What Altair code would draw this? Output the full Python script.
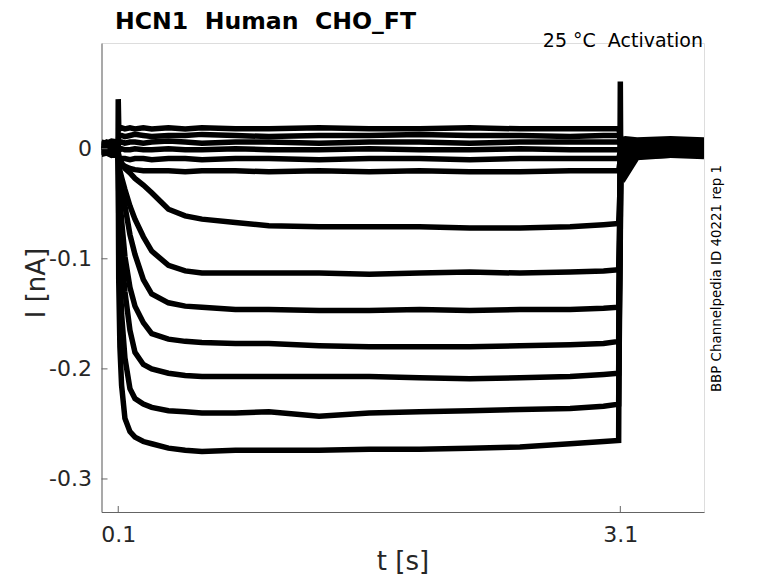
import altair as alt
import pandas as pd

# time points (s)
T = [0.0, 0.03, 0.06, 0.099, 0.1, 0.103, 0.11, 0.12, 0.14, 0.17, 0.2, 0.25, 0.3, 0.4, 0.5,
     0.6, 0.8, 1.0, 1.3, 1.6, 1.9, 2.2, 2.5, 2.8, 3.0, 3.09, 3.1, 3.103, 3.13, 3.2, 3.4, 3.6]

# currents (nA), one list per sweep
N1 = [0.004, 0.006, 0.003, 0.004, 0.045, 0.020, 0.018, 0.019, 0.018, 0.019, 0.018, 0.019, 0.018, 0.019, 0.018,
      0.019, 0.018, 0.018, 0.019, 0.018, 0.018, 0.019, 0.018, 0.018, 0.018, 0.018, 0.012, 0.008, 0.009, 0.008, 0.009, 0.008]
N2 = [0.002, 0.001, 0.003, 0.002, 0.006, 0.011, 0.012, 0.012, 0.011, 0.012, 0.013, 0.012, 0.011, 0.012, 0.012,
      0.013, 0.012, 0.011, 0.012, 0.012, 0.013, 0.012, 0.012, 0.011, 0.012, 0.012, 0.008, 0.006, 0.006, 0.005, 0.006, 0.006]
N3 = [0.000, 0.001, -0.001, 0.000, 0.003, 0.005, 0.006, 0.006, 0.005, 0.006, 0.006, 0.005, 0.006, 0.007, 0.006,
      0.005, 0.006, 0.006, 0.005, 0.006, 0.006, 0.005, 0.006, 0.006, 0.006, 0.006, 0.004, 0.004, 0.004, 0.003, 0.004, 0.004]
N4 = [-0.002, -0.001, -0.003, -0.002, -0.002, -0.001, -0.001, 0.000, -0.001, -0.001, 0.000, -0.001, -0.001, 0.000, -0.001,
      -0.001, 0.000, -0.001, -0.001, 0.000, -0.001, -0.001, 0.000, -0.001, -0.001, -0.001, 0.001, 0.002, 0.001, 0.002, 0.002, 0.002]
N5 = [-0.005, -0.004, -0.006, -0.005, -0.008, -0.008, -0.009, -0.009, -0.009, -0.010, -0.009, -0.009, -0.010, -0.009, -0.009,
      -0.010, -0.009, -0.009, -0.010, -0.009, -0.009, -0.010, -0.009, -0.009, -0.009, -0.009, -0.003, 0.000, -0.001, 0.000, 0.000, 0.000]
N6 = [0.006, 0.005, 0.007, 0.006, -0.006, -0.009, -0.012, -0.014, -0.016, -0.018, -0.019, -0.020, -0.020, -0.020, -0.021,
      -0.020, -0.020, -0.021, -0.020, -0.021, -0.020, -0.021, -0.021, -0.020, -0.020, -0.020, -0.010, -0.004, -0.005, -0.004, -0.004, -0.004]
L1 = [0.001, 0.000, 0.002, 0.001, -0.003, -0.006, -0.010, -0.013, -0.018, -0.022, -0.027, -0.033, -0.040, -0.055, -0.061,
      -0.064, -0.067, -0.070, -0.071, -0.071, -0.071, -0.072, -0.072, -0.071, -0.069, -0.068, -0.030, 0.000, -0.003, -0.001, 0.000, 0.000]
L2 = [-0.001, 0.000, -0.002, -0.001, -0.004, -0.012, -0.020, -0.026, -0.037, -0.052, -0.064, -0.080, -0.093, -0.106, -0.111,
      -0.113, -0.113, -0.113, -0.113, -0.114, -0.113, -0.112, -0.113, -0.112, -0.111, -0.110, -0.040, -0.002, -0.006, -0.003, -0.002, -0.002]
L3 = [0.003, 0.002, 0.004, 0.003, -0.005, -0.015, -0.027, -0.036, -0.052, -0.078, -0.096, -0.119, -0.132, -0.140, -0.143,
      -0.144, -0.146, -0.146, -0.147, -0.147, -0.146, -0.147, -0.146, -0.146, -0.145, -0.144, -0.050, -0.004, -0.010, -0.005, -0.004, -0.004]
L4 = [-0.003, -0.004, -0.002, -0.003, -0.006, -0.025, -0.045, -0.065, -0.098, -0.126, -0.143, -0.158, -0.168, -0.173, -0.175,
      -0.176, -0.177, -0.177, -0.179, -0.180, -0.180, -0.180, -0.179, -0.178, -0.177, -0.175, -0.060, -0.005, -0.014, -0.006, -0.005, -0.005]
L5 = [0.002, 0.003, 0.001, 0.002, -0.008, -0.040, -0.070, -0.095, -0.130, -0.165, -0.185, -0.196, -0.200, -0.204, -0.206,
      -0.207, -0.207, -0.207, -0.207, -0.207, -0.208, -0.209, -0.208, -0.207, -0.205, -0.204, -0.070, -0.006, -0.018, -0.007, -0.006, -0.006]
L6 = [-0.004, -0.003, -0.005, -0.004, -0.010, -0.060, -0.110, -0.150, -0.190, -0.218, -0.227, -0.232, -0.235, -0.238, -0.239,
      -0.240, -0.240, -0.239, -0.243, -0.240, -0.239, -0.238, -0.237, -0.236, -0.234, -0.232, -0.080, -0.010, -0.025, -0.008, -0.006, -0.006]
L7 = [0.001, 0.002, 0.000, 0.001, -0.020, -0.120, -0.180, -0.215, -0.245, -0.257, -0.262, -0.266, -0.268, -0.272, -0.274,
      -0.275, -0.274, -0.274, -0.274, -0.273, -0.273, -0.272, -0.271, -0.268, -0.266, -0.265, 0.061, -0.030, -0.012, -0.006, -0.006, -0.007]

SWEEPS = {"n1": N1, "n2": N2, "n3": N3, "n4": N4, "n5": N5, "n6": N6,
          "l1": L1, "l2": L2, "l3": L3, "l4": L4, "l5": L5, "l6": L6, "l7": L7}

X_TICKS = [0.1, 3.1]
Y_TICKS = [0, -0.1, -0.2, -0.3]

rows = []
for name, vals in SWEEPS.items():
    for t, v in zip(T, vals):
        rows.append({"sweep": name, "t": t, "i": v})
df = pd.DataFrame(rows)

FONT = "DejaVu Sans"
AX = "#646464"
TXT = "#262626"

xs = alt.Scale(domain=[0, 3.6], nice=False, zero=False)
ys = alt.Scale(domain=[-0.33, 0.096], nice=False, zero=False)

xaxis = alt.Axis(values=X_TICKS, format=".1f", ticks=False, grid=False, domainColor=AX,
                 labelFont=FONT, labelFontSize=22, labelColor=TXT, labelPadding=12,
                 title="t [s]", titleFont=FONT, titleFontSize=26, titleFontWeight="normal",
                 titleColor=TXT, titleX=301, titleY=57.5, titleBaseline="alphabetic", titleAlign="center")
yaxis = alt.Axis(values=Y_TICKS, ticks=False, grid=False, domainColor=AX,
                 labelExpr="datum.value == 0 ? '0\u2008\u2007' : '-' + format(abs(datum.value), '.1f')",
                 labelFont=FONT, labelFontSize=22, labelColor=TXT, labelPadding=10,
                 title="I [nA]", titleFont=FONT, titleFontSize=26, titleFontWeight="normal",
                 titleColor=TXT, titleX=-56.6, titleY=239.5, titleAngle=270,
                 titleBaseline="alphabetic", titleAlign="center")

lines = alt.Chart(df).mark_line(color="black", strokeWidth=5.5, clip=True).encode(
    x=alt.X("t:Q", scale=xs, axis=xaxis),
    y=alt.Y("i:Q", scale=ys, axis=yaxis),
    detail="sweep:N",
    order="t:Q",
)

xt = alt.Chart(pd.DataFrame({"t": X_TICKS})).mark_rule(color=AX, strokeWidth=1).encode(
    x=alt.X("t:Q", scale=xs, axis=xaxis), y=alt.value(469), y2=alt.value(463))
yt = alt.Chart(pd.DataFrame({"i": Y_TICKS})).mark_rule(color=AX, strokeWidth=1).encode(
    y=alt.Y("i:Q", scale=ys, axis=yaxis), x=alt.value(0), x2=alt.value(6))

one = pd.DataFrame({"k": [0]})
title = alt.Chart(one).mark_text(font=FONT, fontSize=23.6, fontWeight="bold", color="black",
                                 align="left", baseline="alphabetic").encode(
    x=alt.value(13.5), y=alt.value(-14.5), text=alt.value("HCN1\u00a0\u00a0Human\u00a0\u00a0CHO_FT"))
cond = alt.Chart(one).mark_text(font=FONT, fontSize=19, color="black",
                                align="right", baseline="alphabetic").encode(
    x=alt.value(601.5), y=alt.value(4), text=alt.value("25 °C\u00a0\u00a0Activation"))
side = alt.Chart(one).mark_text(font=FONT, fontSize=13.4, color="black", angle=270,
                                align="center", baseline="alphabetic").encode(
    x=alt.value(619), y=alt.value(235.5), text=alt.value("BBP Channelpedia ID 40221 rep 1"))

chart = alt.layer(lines, xt, yt, title, cond, side).properties(
    width=602.5, height=469,
    autosize=alt.AutoSizeParams(type="none"),
    padding={"left": 93.5, "top": 35, "right": 58, "bottom": 63},
).configure_view(stroke=None).configure(background="white")

chart.save("out.html", embed_options={"renderer": "svg", "actions": False})
